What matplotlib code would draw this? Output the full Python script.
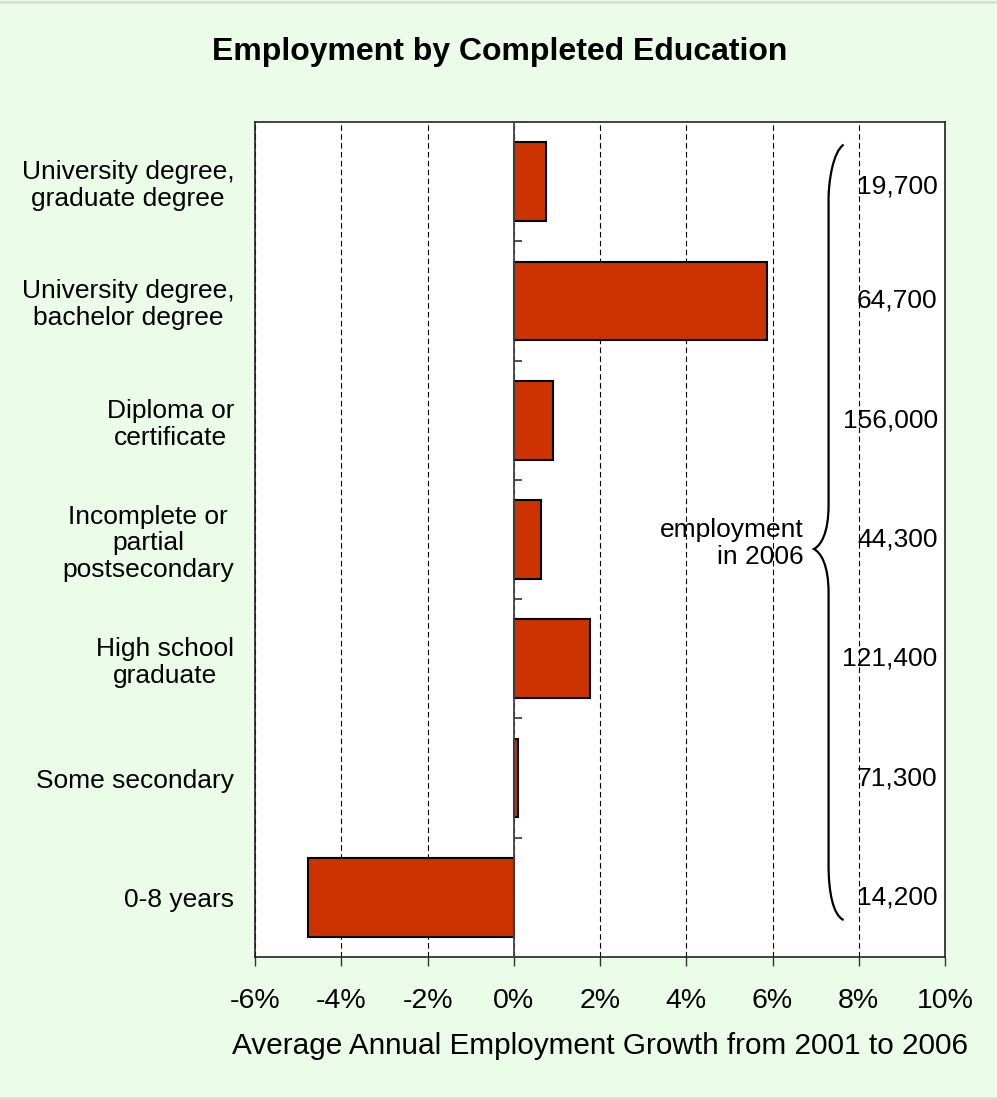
"""Employment by Completed Education -> out.png"""
import numpy as np
import matplotlib
matplotlib.use("Agg")
import matplotlib.pyplot as plt
from matplotlib.path import Path
from matplotlib.patches import PathPatch
from matplotlib.lines import Line2D

plt.rcParams["font.family"] = ["Liberation Sans", "DejaVu Sans"]

categories = [
    "University degree,\ngraduate degree",
    "University degree,\nbachelor degree",
    "Diploma or\ncertificate",
    "Incomplete or\npartial\npostsecondary",
    "High school\ngraduate",
    "Some secondary",
    "0-8 years",
]
growth = [0.74, 5.88, 0.90, 0.63, 1.76, 0.09, -4.78]  # % per year
employment_2006 = [19700, 64700, 156000, 44300, 121400, 71300, 14200]
xticks = [-6, -4, -2, 0, 2, 4, 6, 8, 10]

BG = "#EBFCE9"
BAR = "#CC3300"

fig = plt.figure(figsize=(9.97, 10.99), dpi=100, facecolor=BG)
ax = fig.add_axes([255 / 997, 1 - 957 / 1099, 690 / 997, 835 / 1099])
ax.set_facecolor("white")

y = np.arange(len(categories))
ax.barh(y, growth, height=0.66, color=BAR, edgecolor="black", linewidth=1.5, zorder=3)

ax.set_xlim(-6, 10)
ax.set_ylim(len(categories) - 0.5, -0.5)
ax.set_xticks(xticks)
ax.set_xticklabels([f"{t}%" for t in xticks], fontsize=20.5)
ax.tick_params(axis="x", direction="out", length=6.5, width=1, color="#333333", pad=16)
ax.set_yticks(y)
ax.set_yticklabels(categories, fontsize=19, ha="right", multialignment="center",
                   linespacing=1.15)
ax.tick_params(axis="y", length=0, pad=15)

ax.grid(axis="x", color="black", linestyle=(0, (5, 3)), linewidth=0.8, zorder=1)
for s in ax.spines.values():
    s.set_color("#222222")
    s.set_linewidth(1.2)

# category axis sits at 0 with small ticks at the band boundaries
ax.axvline(0, color="#444444", linewidth=1.3, zorder=4)
ax.hlines(np.arange(len(categories) + 1) - 0.5, 0, 0.19, color="#444444",
          linewidth=1.3, zorder=4, clip_on=False)

ax.set_xlabel("Average Annual Employment Growth from 2001 to 2006", fontsize=21.4,
              labelpad=13)
fig.text(500 / 997, 1 - 52 / 1099, "Employment by Completed Education",
         fontsize=23, fontweight="bold", ha="center", va="center")

# employment counts, right aligned inside the plot
for yi, n in zip(y, employment_2006):
    ax.text(9.83, yi + (0.04 if yi == 0 else 0), f"{n:,}", fontsize=19,
            ha="right", va="center", zorder=5)

# curly brace + caption
verts = [(7.65, -0.31), (7.40, -0.25), (7.30, 0.0), (7.30, 0.15),
         (7.30, 2.71),
         (7.30, 2.95), (7.12, 3.05), (6.96, 3.08),
         (7.12, 3.11), (7.30, 3.21), (7.30, 3.45),
         (7.30, 5.73),
         (7.30, 5.95), (7.40, 6.15), (7.65, 6.19)]
codes = [Path.MOVETO, Path.CURVE4, Path.CURVE4, Path.CURVE4,
         Path.LINETO,
         Path.CURVE4, Path.CURVE4, Path.CURVE4,
         Path.CURVE4, Path.CURVE4, Path.CURVE4,
         Path.LINETO,
         Path.CURVE4, Path.CURVE4, Path.CURVE4]
ax.add_patch(PathPatch(Path(verts, codes), facecolor="none", edgecolor="black",
                       linewidth=1.6, zorder=5))
ax.text(6.73, 3.03, "employment\nin 2006", fontsize=19, ha="right", va="center",
        multialignment="right", linespacing=1.15, zorder=5)

# thin grey frame lines at top and bottom of the picture
for yy in (1 - 1.5 / 1099, 1.5 / 1099):
    fig.add_artist(Line2D([0, 1], [yy, yy], transform=fig.transFigure,
                          color="#DDDDDD", linewidth=2))

fig.savefig("out.png", dpi=100, facecolor=BG)
